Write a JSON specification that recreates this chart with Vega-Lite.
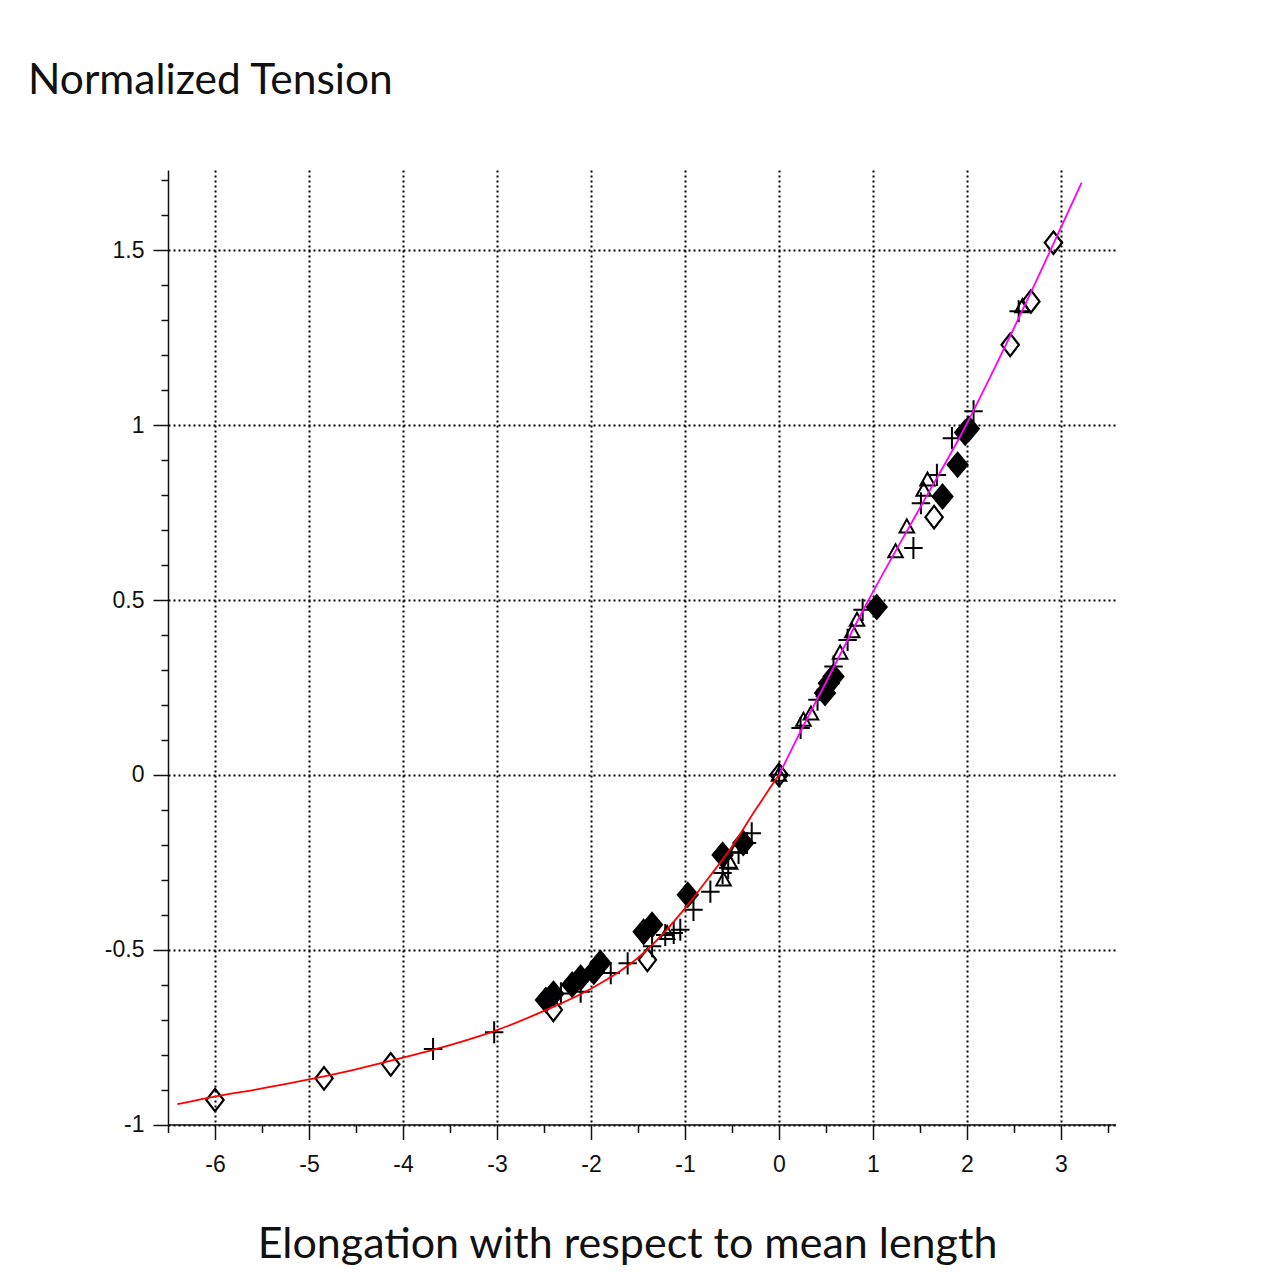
{
  "$schema": "https://vega.github.io/schema/vega-lite/v6.json",
  "autosize": {"type": "none"},
  "width": 947.5,
  "height": 954.5,
  "padding": {"left": 168, "top": 170, "right": 167.5, "bottom": 156.5},
  "background": "white",
  "title": {
    "text": "Normalized Tension",
    "anchor": "start",
    "frame": "group",
    "font": "Lato",
    "fontSize": 42.5,
    "fontWeight": "normal",
    "color": "#111",
    "baseline": "alphabetic",
    "offset": 34,
    "dx": -140
  },
  "config": {
    "view": {"stroke": null},
    "axis": {
      "labelFont": "Liberation Sans",
      "labelFontSize": 23,
      "labelColor": "#111",
      "domainColor": "#111",
      "domainWidth": 1.5,
      "tickColor": "#111",
      "tickWidth": 1.5
    }
  },
  "datasets": {
    "pts": [
      {"x": -6.0, "y": -0.93, "m": "open"},
      {"x": -4.84, "y": -0.868, "m": "open"},
      {"x": -4.13, "y": -0.828, "m": "open"},
      {"x": -2.40, "y": -0.672, "m": "open"},
      {"x": -1.40, "y": -0.529, "m": "open"},
      {"x": 0, "y": 0, "m": "open"},
      {"x": 1.65, "y": 0.737, "m": "open"},
      {"x": 2.46, "y": 1.23, "m": "open"},
      {"x": 2.68, "y": 1.354, "m": "open"},
      {"x": 2.92, "y": 1.522, "m": "open"},
      {"x": -2.48, "y": -0.644, "m": "filled"},
      {"x": -2.40, "y": -0.626, "m": "filled"},
      {"x": -2.20, "y": -0.60, "m": "filled"},
      {"x": -2.11, "y": -0.58, "m": "filled"},
      {"x": -1.97, "y": -0.563, "m": "filled"},
      {"x": -1.90, "y": -0.538, "m": "filled"},
      {"x": -1.44, "y": -0.449, "m": "filled"},
      {"x": -1.35, "y": -0.429, "m": "filled"},
      {"x": -0.97, "y": -0.343, "m": "filled"},
      {"x": -0.60, "y": -0.229, "m": "filled"},
      {"x": -0.38, "y": -0.195, "m": "filled"},
      {"x": 0.49, "y": 0.234, "m": "filled"},
      {"x": 0.53, "y": 0.262, "m": "filled"},
      {"x": 0.58, "y": 0.281, "m": "filled"},
      {"x": 1.04, "y": 0.48, "m": "filled"},
      {"x": 1.74, "y": 0.796, "m": "filled"},
      {"x": 1.90, "y": 0.887, "m": "filled"},
      {"x": 1.98, "y": 0.979, "m": "filled"},
      {"x": 2.02, "y": 0.99, "m": "filled"},
      {"x": -3.68, "y": -0.784, "m": "plus"},
      {"x": -3.03, "y": -0.736, "m": "plus"},
      {"x": -2.32, "y": -0.625, "m": "plus"},
      {"x": -2.11, "y": -0.62, "m": "plus"},
      {"x": -1.79, "y": -0.567, "m": "plus"},
      {"x": -1.61, "y": -0.539, "m": "plus"},
      {"x": -1.35, "y": -0.49, "m": "plus"},
      {"x": -1.21, "y": -0.458, "m": "plus"},
      {"x": -1.12, "y": -0.452, "m": "plus"},
      {"x": -1.05, "y": -0.443, "m": "plus"},
      {"x": -0.91, "y": -0.386, "m": "plus"},
      {"x": -0.73, "y": -0.334, "m": "plus"},
      {"x": -0.60, "y": -0.281, "m": "plus"},
      {"x": -0.54, "y": -0.266, "m": "plus"},
      {"x": -0.43, "y": -0.223, "m": "plus"},
      {"x": -0.34, "y": -0.195, "m": "plus"},
      {"x": -0.29, "y": -0.167, "m": "plus"},
      {"x": 0, "y": 0, "m": "plus"},
      {"x": 0.23, "y": 0.134, "m": "plus"},
      {"x": 0.41, "y": 0.215, "m": "plus"},
      {"x": 0.58, "y": 0.31, "m": "plus"},
      {"x": 0.73, "y": 0.386, "m": "plus"},
      {"x": 0.89, "y": 0.472, "m": "plus"},
      {"x": 1.43, "y": 0.649, "m": "plus"},
      {"x": 1.51, "y": 0.777, "m": "plus"},
      {"x": 1.68, "y": 0.858, "m": "plus"},
      {"x": 1.84, "y": 0.963, "m": "plus"},
      {"x": 2.07, "y": 1.04, "m": "plus"},
      {"x": 2.55, "y": 1.326, "m": "plus"},
      {"x": -1.19, "y": -0.453, "m": "tri"},
      {"x": -0.59, "y": -0.30, "m": "tri"},
      {"x": -0.52, "y": -0.252, "m": "tri"},
      {"x": -0.44, "y": -0.205, "m": "tri"},
      {"x": 0, "y": 0, "m": "tri"},
      {"x": 0.26, "y": 0.157, "m": "tri"},
      {"x": 0.34, "y": 0.175, "m": "tri"},
      {"x": 0.48, "y": 0.243, "m": "tri"},
      {"x": 0.65, "y": 0.349, "m": "tri"},
      {"x": 0.78, "y": 0.41, "m": "tri"},
      {"x": 0.83, "y": 0.443, "m": "tri"},
      {"x": 1.24, "y": 0.639, "m": "tri"},
      {"x": 1.36, "y": 0.71, "m": "tri"},
      {"x": 1.54, "y": 0.815, "m": "tri"},
      {"x": 1.58, "y": 0.844, "m": "tri"},
      {"x": 2.59, "y": 1.34, "m": "tri"}
    ],
    "curves": [
      {"x": -6.4, "y": -0.942, "c": "compression"},
      {"x": -6.0, "y": -0.92, "c": "compression"},
      {"x": -5.5, "y": -0.897, "c": "compression"},
      {"x": -5.0, "y": -0.871, "c": "compression"},
      {"x": -4.5, "y": -0.842, "c": "compression"},
      {"x": -4.0, "y": -0.809, "c": "compression"},
      {"x": -3.5, "y": -0.773, "c": "compression"},
      {"x": -3.0, "y": -0.73, "c": "compression"},
      {"x": -2.5, "y": -0.675, "c": "compression"},
      {"x": -2.0, "y": -0.612, "c": "compression"},
      {"x": -1.4, "y": -0.50, "c": "compression"},
      {"x": -1.0, "y": -0.382, "c": "compression"},
      {"x": -0.75, "y": -0.295, "c": "compression"},
      {"x": -0.5, "y": -0.205, "c": "compression"},
      {"x": -0.25, "y": -0.1, "c": "compression"},
      {"x": 0, "y": 0, "c": "compression"},
      {"x": 0, "y": 0, "c": "extension"},
      {"x": 0.19, "y": 0.103, "c": "extension"},
      {"x": 0.5, "y": 0.265, "c": "extension"},
      {"x": 0.953, "y": 0.5, "c": "extension"},
      {"x": 1.5, "y": 0.764, "c": "extension"},
      {"x": 1.99, "y": 1.0, "c": "extension"},
      {"x": 2.245, "y": 1.137, "c": "extension"},
      {"x": 2.74, "y": 1.414, "c": "extension"},
      {"x": 3.22, "y": 1.694, "c": "extension"}
    ]
  },
  "resolve": {"axis": {"x": "independent", "y": "independent"}},
  "layer": [
    {
      "data": {"name": "pts"},
      "transform": [{"filter": "datum.m === 'open'"}],
      "mark": {"type": "point", "shape": "M0,-1.3L1,0L0,1.3L-1,0Z", "size": 300, "filled": false, "stroke": "#000", "strokeWidth": 2.2, "opacity": 1},
      "encoding": {
        "x": {
          "field": "x", "type": "quantitative",
          "scale": {"domain": [-6.5, 3.58], "nice": false, "zero": false},
          "axis": {
            "orient": "bottom",
            "values": [-6, -5, -4, -3, -2, -1, 0, 1, 2, 3],
            "labelExpr": "datum.value + ''",
            "tickSize": 15,
            "labelPadding": 14,
            "grid": true,
            "gridColor": "#000",
            "gridDash": [2, 3],
            "gridWidth": 2,
            "title": "Elongation with respect to mean length",
            "titleFont": "Lato",
            "titleFontSize": 43,
            "titleFontWeight": "normal",
            "titleColor": "#111",
            "titleX": 459,
            "titleY": 133,
            "titleAlign": "center",
            "titleBaseline": "alphabetic"
          }
        },
        "y": {
          "field": "y", "type": "quantitative",
          "scale": {"domain": [-1, 1.73], "nice": false, "zero": false},
          "axis": {
            "orient": "left",
            "values": [-1, -0.5, 0, 0.5, 1, 1.5],
            "labelExpr": "datum.value + ''",
            "tickSize": 15,
            "labelPadding": 9,
            "grid": true,
            "gridColor": "#000",
            "gridDash": [2, 3],
            "gridWidth": 2,
            "title": null
          }
        }
      }
    },
    {
      "data": {"name": "pts"},
      "transform": [{"filter": "datum.m === 'filled'"}],
      "mark": {"type": "point", "shape": "M0,-1.2L1,0L0,1.2L-1,0Z", "size": 400, "filled": true, "fill": "#000", "stroke": "#000", "strokeWidth": 2, "opacity": 1},
      "encoding": {
        "x": {
          "field": "x", "type": "quantitative",
          "axis": {
            "orient": "bottom",
            "values": [-6.5, -5.5, -4.5, -3.5, -2.5, -1.5, -0.5, 0.5, 1.5, 2.5, 3.5],
            "labels": false, "grid": false, "domain": false,
            "tickSize": 8, "title": null
          }
        },
        "y": {
          "field": "y", "type": "quantitative",
          "axis": {
            "orient": "left",
            "values": [-0.9, -0.8, -0.7, -0.6, -0.4, -0.3, -0.2, -0.1, 0.1, 0.2, 0.3, 0.4, 0.6, 0.7, 0.8, 0.9, 1.1, 1.2, 1.3, 1.4, 1.6, 1.7],
            "labels": false, "grid": false, "domain": false,
            "tickSize": 7, "title": null
          }
        }
      }
    },
    {
      "data": {"name": "pts"},
      "transform": [{"filter": "datum.m === 'plus'"}],
      "mark": {"type": "point", "shape": "M-1,0L1,0M0,-1.2L0,1.2", "size": 340, "filled": false, "stroke": "#000", "strokeWidth": 2, "opacity": 1},
      "encoding": {
        "x": {"field": "x", "type": "quantitative", "axis": null},
        "y": {"field": "y", "type": "quantitative", "axis": null}
      }
    },
    {
      "data": {"name": "pts"},
      "transform": [{"filter": "datum.m === 'tri'"}],
      "mark": {"type": "point", "shape": "M0,-1L1,0.8L-1,0.8Z", "size": 210, "filled": false, "stroke": "#000", "strokeWidth": 2, "opacity": 1},
      "encoding": {
        "x": {"field": "x", "type": "quantitative", "axis": null},
        "y": {"field": "y", "type": "quantitative", "axis": null}
      }
    },
    {
      "data": {"name": "curves"},
      "mark": {"type": "line", "interpolate": "monotone", "strokeWidth": 1.8},
      "encoding": {
        "x": {"field": "x", "type": "quantitative", "axis": null},
        "y": {"field": "y", "type": "quantitative", "axis": null},
        "color": {
          "field": "c", "type": "nominal",
          "scale": {"domain": ["compression", "extension"], "range": ["#ff0000", "#ff00ff"]},
          "legend": null
        }
      }
    }
  ]
}
